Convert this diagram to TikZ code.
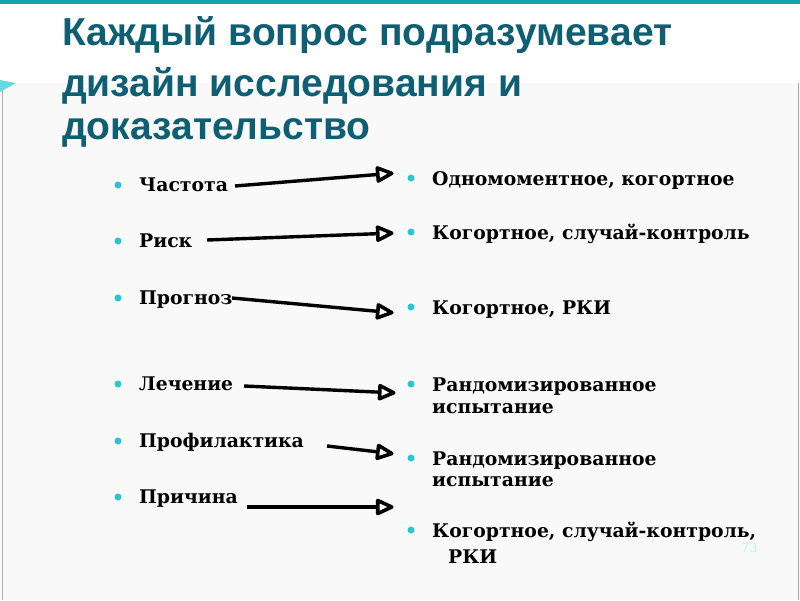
\documentclass[tikz,border=0pt]{standalone}
\usepackage{fontspec}
\setmainfont{DejaVu Serif}
\newfontfamily\titlefont{Liberation Sans}
\usetikzlibrary{shapes.geometric}
\definecolor{titleteal}{RGB}{14,94,116}
\definecolor{bartealc}{RGB}{24,162,176}
\definecolor{bulletc}{RGB}{38,198,214}
\definecolor{panelc}{RGB}{249,249,249}
\tikzset{
  titleline/.style={anchor=base west, inner sep=0, font=\titlefont\bfseries\fontsize{39}{39}\selectfont, text=titleteal},
  itemtext/.style={anchor=base west, inner sep=0, font=\bfseries\fontsize{18.8}{18.8}\selectfont, text=black},
  bul/.style={circle, fill=bulletc, inner sep=0, minimum size=7pt},
  conn/.style={line width=3.4pt, shorten >=11pt},
  headtip/.style={isosceles triangle, isosceles triangle apex angle=50, draw=black, fill=white, line width=3.6pt, inner sep=0, minimum height=14pt, minimum width=11pt, sloped, pos=1, anchor=apex, line join=round}
}
\begin{document}
\begin{tikzpicture}[x=1pt,y=-1pt]
\useasboundingbox (0,0) rectangle (800,600);
% background
\fill[white] (0,0) rectangle (800,600);
\fill[panelc] (0,83) rectangle (800,600);
\fill[bartealc] (0,0) rectangle (800,4);
\draw[gray!60, line width=1pt] (2.5,90) -- (2.5,600);
\draw[gray!70, line width=1.5pt] (798.5,83) -- (798.5,600);
\fill[bulletc!70] (0,80) -- (16,83) -- (0,92) -- cycle;
% title
\node[titleline] (t1) at (62,45) {Каждый вопрос подразумевает};
\node[titleline] (t2) at (62,96) {дизайн исследования и};
\node[titleline] (t3) at (62,139) {доказательство};
% left items
\node[itemtext] (l1) at (139,191) {Частота};
\node[itemtext] (l2) at (139,247) {Риск};
\node[itemtext] (l3) at (139,304) {Прогноз};
\node[itemtext] (l4) at (139,390) {Лечение};
\node[itemtext] (l5) at (139,447) {Профилактика};
\node[itemtext] (l6) at (139,503) {Причина};
\foreach \yy/\nm in {185/b1,241/b2,298/b3,384/b4,441/b5,497/b6}
  \node[bul] (\nm) at (118,\yy) {};
% right items
\node[itemtext] (r1) at (432,185) {Одномоментное, когортное};
\node[itemtext] (r2) at (432,239) {Когортное, случай-контроль};
\node[itemtext] (r3) at (432,314) {Когортное, РКИ};
\node[itemtext] (r4a) at (432,391) {Рандомизированное};
\node[itemtext] (r4b) at (432,413) {испытание};
\node[itemtext] (r5a) at (432,465) {Рандомизированное};
\node[itemtext] (r5b) at (432,486) {испытание};
\node[itemtext] (r6a) at (432,537) {Когортное, случай-контроль,};
\node[itemtext] (r6b) at (448,563) {РКИ};
\foreach \yy/\nm in {178/c1,232/c2,307/c3,384/c4,458/c5,530/c6}
  \node[bul] (\nm) at (411,\yy) {};
% page number
\node[anchor=base west, inner sep=0, font=\fontsize{13}{13}\selectfont, text=bulletc!30] (pg) at (741,552) {73};
% arrow endpoints
\coordinate (s1) at (235,186); \coordinate (e1) at (396,173);
\coordinate (s2) at (207,240); \coordinate (e2) at (396,233);
\coordinate (s3) at (232,298); \coordinate (e3) at (396,313);
\coordinate (s4) at (244,386); \coordinate (e4) at (398,393);
\coordinate (s5) at (327,446); \coordinate (e5) at (396,454);
\coordinate (s6) at (247,507); \coordinate (e6) at (396,507);
\foreach \i in {1,...,6}{
  \draw[conn] (s\i) -- (e\i);
  \path (s\i) -- (e\i) node[headtip] (h\i) {};
}
\end{tikzpicture}
\end{document}
